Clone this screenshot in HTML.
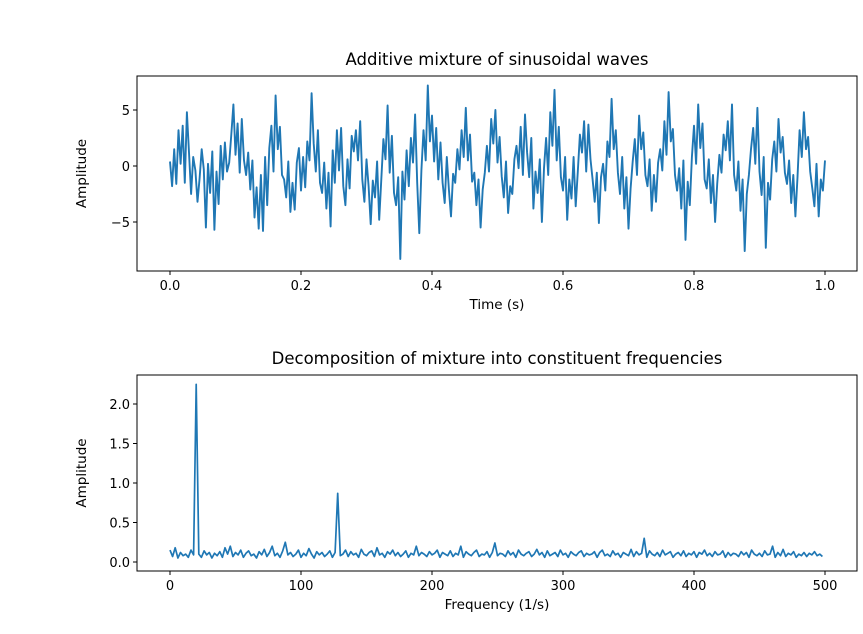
<!DOCTYPE html>
<html><head><meta charset="utf-8"><style>
body{margin:0;background:#fff;font-family:"Liberation Sans","DejaVu Sans",sans-serif}
text{font-family:"DejaVu Sans","Liberation Sans",sans-serif}
</style></head><body>
<svg id="c" width="863" height="629" xmlns="http://www.w3.org/2000/svg"></svg>
<script>
const topValues=[0.4,-1.8,1.5,-1.6,3.2,0.2,3.6,-1.5,4.8,1.2,-2.5,0.8,-0.4,-3.2,-1.1,1.5,-0.3,-5.5,0.2,-2.4,1.3,-5.7,-0.5,-3.4,1.8,-1.2,2.1,-0.5,0.3,2.8,5.5,1.0,3.8,-0.6,4.2,0.5,-0.8,1.2,-2.1,0.5,-4.6,-1.9,-5.6,-0.8,-5.8,0.8,-3.5,1.6,3.6,-0.5,6.3,1.5,3.5,-0.8,-1.2,-2.8,0.4,-4.1,-1.5,-3.9,0.3,1.6,-2.2,0.8,-1.9,2.2,0.5,6.5,2.0,-0.5,3.2,-1.5,-2.4,0.3,-3.8,-0.6,-5.4,1.4,-1.5,3.2,-0.4,3.4,-1.8,-3.5,0.6,-2.0,2.7,1.3,3.2,0.5,4.0,-1.2,-3.2,0.6,-1.8,-5.2,-1.3,-2.8,0.4,-4.8,-1.2,2.4,0.6,5.4,-0.6,2.7,-2.4,-3.5,-1.0,-8.3,-0.5,-3.0,1.4,-1.8,2.5,0.3,4.6,-1.5,-6.0,-0.4,3.2,0.5,7.2,2.2,4.5,0.4,3.4,-1.2,2.1,-1.5,-3.3,0.8,-2.1,-4.5,-0.7,-1.5,1.5,-0.3,3.2,0.8,5.2,0.5,2.8,-1.4,-0.6,-3.5,-1.2,-5.5,-2.1,-0.6,1.8,-0.5,4.2,2.0,5.0,0.3,2.6,-0.9,-2.8,0.4,-4.2,-1.8,-2.5,0.6,1.8,-0.2,3.5,-0.8,4.6,1.2,-1.0,2.5,-3.8,-0.5,-2.4,0.6,-5.0,-0.2,2.5,-0.8,4.8,1.8,6.8,0.5,3.5,-1.0,-2.2,0.8,-4.8,-1.2,-2.9,0.8,-3.6,-0.5,2.8,1.2,4.0,-0.5,3.7,0.6,-1.2,-3.2,-0.6,-5.1,-1.0,0.2,-2.2,2.2,0.8,6.0,1.5,3.2,-0.6,-2.5,0.8,-3.8,-1.0,-5.6,-2.0,0.4,2.4,-0.8,4.5,1.5,3.0,-0.8,-1.8,0.6,-4.0,-0.8,-3.2,0.3,1.5,-0.4,4.0,1.0,6.6,2.2,3.3,-0.8,-2.2,-0.2,-3.8,0.5,-6.6,-1.4,-3.5,0.8,3.6,0.2,5.5,1.6,3.8,-1.2,-2.0,0.6,-3.3,-0.8,-5.0,-1.6,1.0,-0.6,2.8,1.4,4.0,0.5,5.5,-0.8,-2.2,0.4,-4.0,-1.2,-7.6,-2.5,-0.8,1.5,3.4,0.2,5.2,-0.5,-2.6,0.8,-7.3,-1.5,-3.0,0.6,2.2,-0.5,4.2,1.2,2.6,-0.6,-1.6,0.5,-3.3,-0.8,-4.5,-1.0,3.2,0.8,4.8,1.5,2.6,-0.5,-2.0,-3.6,0.2,-4.5,-1.2,-2.2,0.5];
const topTimes=topValues.map((v,i)=>i/(topValues.length-1));
const botValues=[0.15,0.07,0.18,0.05,0.12,0.08,0.1,0.06,0.15,0.09,2.25,0.1,0.06,0.14,0.09,0.12,0.05,0.11,0.08,0.13,0.06,0.18,0.1,0.2,0.07,0.12,0.09,0.15,0.06,0.11,0.14,0.08,0.1,0.05,0.13,0.09,0.16,0.07,0.12,0.2,0.08,0.11,0.06,0.14,0.25,0.09,0.12,0.07,0.1,0.15,0.06,0.11,0.08,0.17,0.1,0.05,0.13,0.09,0.12,0.07,0.1,0.14,0.06,0.12,0.87,0.08,0.1,0.15,0.07,0.13,0.09,0.11,0.06,0.16,0.1,0.08,0.12,0.14,0.07,0.18,0.09,0.11,0.06,0.13,0.1,0.15,0.08,0.12,0.07,0.1,0.14,0.06,0.11,0.09,0.2,0.08,0.12,0.1,0.07,0.13,0.09,0.11,0.15,0.06,0.12,0.1,0.08,0.14,0.07,0.11,0.09,0.2,0.06,0.13,0.1,0.08,0.12,0.15,0.07,0.1,0.09,0.13,0.06,0.12,0.24,0.08,0.11,0.1,0.07,0.14,0.09,0.12,0.06,0.15,0.1,0.08,0.11,0.13,0.07,0.1,0.16,0.09,0.12,0.06,0.14,0.08,0.1,0.12,0.07,0.15,0.09,0.11,0.06,0.13,0.1,0.08,0.12,0.14,0.07,0.11,0.09,0.1,0.13,0.06,0.12,0.15,0.08,0.1,0.07,0.14,0.09,0.11,0.06,0.12,0.1,0.08,0.16,0.07,0.13,0.09,0.11,0.3,0.06,0.14,0.1,0.08,0.12,0.07,0.15,0.09,0.11,0.13,0.06,0.1,0.12,0.08,0.14,0.07,0.11,0.09,0.13,0.06,0.12,0.1,0.15,0.08,0.11,0.07,0.13,0.09,0.1,0.14,0.06,0.12,0.08,0.11,0.1,0.07,0.13,0.09,0.12,0.06,0.15,0.1,0.08,0.11,0.07,0.14,0.09,0.1,0.2,0.06,0.12,0.08,0.16,0.07,0.11,0.09,0.13,0.06,0.1,0.08,0.12,0.07,0.11,0.09,0.13,0.08,0.1,0.07];
const botFreq=botValues.map((v,i)=>i*2);
const topXTicks=[0,0.2,0.4,0.6,0.8,1.0],topXLabels=["0.0","0.2","0.4","0.6","0.8","1.0"];
const topYTicks=[5,0,-5],topYLabels=["5","0","−5"];
const botXTicks=[0,100,200,300,400,500],botXLabels=["0","100","200","300","400","500"];
const botYTicks=[0,0.5,1,1.5,2],botYLabels=["0.0","0.5","1.0","1.5","2.0"];
const S=document.getElementById('c'),NS='http://www.w3.org/2000/svg';
function mk(t,a,p){const e=document.createElementNS(NS,t);for(const k in a)e.setAttribute(k,a[k]);(p||S).appendChild(e);return e;}
function panel(o){
 const g=mk('g',{});
 
 
 const X=v=>o.x0+(v-o.xmin)/(o.xmax-o.xmin)*(o.x1-o.x0);
 const Y=v=>o.y0-(v-o.ymin)/(o.ymax-o.ymin)*(o.y0-o.y1);
 let d=o.xs.map((x,i)=>(i?'L':'M')+X(x).toFixed(1)+','+Y(o.ys[i]).toFixed(1)).join('');
 const ln=mk('path',{d:d,fill:'none',stroke:'#1f77b4','stroke-width':o.sw,'stroke-linejoin':'round'},g);
 
 
 const fr=mk('rect',{x:o.L,y:o.T,width:o.R-o.L,height:o.B-o.T,fill:'none',stroke:'#000','stroke-width':1},g);
 
 
 o.xt.forEach((v,i)=>{const x=X(v);mk('line',{x1:x,x2:x,y1:o.B,y2:o.B+4,stroke:'#000'},g);
  const t=mk('text',{x:x,y:o.B+19,'text-anchor':'middle','font-size':13},g);t.textContent=o.xl[i];
  
  });
 o.yt.forEach((v,i)=>{const y=Y(v);mk('line',{x1:o.L-4,x2:o.L,y1:y,y2:y,stroke:'#000'},g);
  const t=mk('text',{x:o.L-7,y:y+5,'text-anchor':'end','font-size':13},g);t.textContent=o.yl[i];
  
  });
 const ti=mk('text',{x:(o.L+o.R)/2,y:o.T-11,'text-anchor':'middle','font-size':16.5},g);ti.textContent=o.title;
 
 
 const xa=mk('text',{x:(o.L+o.R)/2,y:o.B+38,'text-anchor':'middle','font-size':13.5},g);xa.textContent=o.xlab;
 
 
 const cy=(o.T+o.B)/2;
 const ya=mk('text',{x:86,y:cy,'text-anchor':'middle','font-size':13.5,transform:'rotate(-90 86 '+cy+')'},g);ya.textContent='Amplitude';
 
 
}
panel({name:'time-panel',sw:1.9,L:137,R:857,T:76,B:271,x0:170,x1:825,xmin:0,xmax:1,y0:166,y1:110,ymin:0,ymax:5,xs:topTimes,ys:topValues,xt:topXTicks,xl:topXLabels,yt:topYTicks,yl:topYLabels,title:'Additive mixture of sinusoidal waves',xlab:'Time (s)'});
panel({name:'frequency-panel',sw:1.7,L:137,R:857,T:375,B:571,x0:170,x1:825,xmin:0,xmax:500,y0:562,y1:404,ymin:0,ymax:2,xs:botFreq,ys:botValues,xt:botXTicks,xl:botXLabels,yt:botYTicks,yl:botYLabels,title:'Decomposition of mixture into constituent frequencies',xlab:'Frequency (1/s)'});
</script>
</body></html>
